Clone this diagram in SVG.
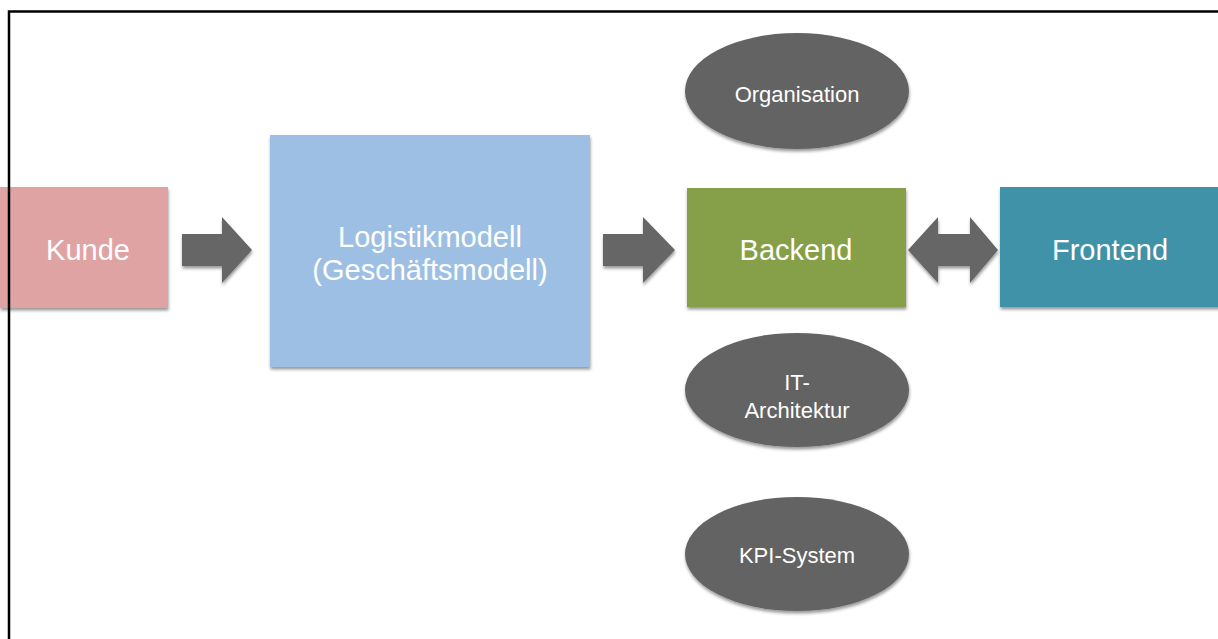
<svg xmlns="http://www.w3.org/2000/svg" width="1218" height="639" viewBox="0 0 1218 639">
  <defs>
    <filter id="shadow" x="-10%" y="-10%" width="120%" height="130%">
      <feDropShadow dx="0.5" dy="2.5" stdDeviation="1.8" flood-color="#000" flood-opacity="0.4"/>
    </filter>
    <style>
      .box { filter: url(#shadow); }
      .big { font-family: "Liberation Sans", Arial, sans-serif; font-size: 29px; fill: #ffffff; text-anchor: middle; }
      .small { font-family: "Liberation Sans", Arial, sans-serif; font-size: 22px; fill: #ffffff; text-anchor: middle; }
      .oval { fill: #646464; filter: url(#shadow); }
      .arrow { fill: #666666; filter: url(#shadow); }
    </style>
  </defs>

  <rect width="1218" height="639" fill="#ffffff"/>

  <!-- flow arrows -->
  <g id="connectors">
    <path class="arrow" d="M182,234 H222 V217 L252,250 L222,283 V266 H182 Z"/>
    <path class="arrow" d="M603,234 H643 V217 L675,250 L643,283 V266 H603 Z"/>
    <path class="arrow" d="M908,250 L938,217 V234 H970 V217 L998,250 L970,283 V266 H938 V283 Z"/>
  </g>

  <g id="kunde">
    <rect class="box" x="0" y="187" width="168" height="121" fill="#E0A3A4"/>
    <text class="big" x="88" y="260">Kunde</text>
  </g>

  <g id="logistikmodell">
    <rect class="box" x="270" y="135" width="320" height="232" fill="#9EBFE4"/>
    <text class="big" x="430" y="247">Logistikmodell</text>
    <text class="big" x="430" y="280">(Geschäftsmodell)</text>
  </g>

  <g id="backend">
    <rect class="box" x="687" y="188" width="219" height="119" fill="#869F49"/>
    <text class="big" x="796" y="260">Backend</text>
  </g>

  <g id="frontend">
    <rect class="box" x="1000" y="187" width="230" height="120" fill="#4192A9"/>
    <text class="big" x="1110" y="260">Frontend</text>
  </g>

  <g id="organisation">
    <ellipse class="oval" cx="797" cy="91" rx="112" ry="58"/>
    <text class="small" x="797" y="102" font-size="20">Organisation</text>
  </g>

  <g id="it-architektur">
    <ellipse class="oval" cx="797" cy="390" rx="112" ry="57"/>
    <text class="small" x="797" y="390">IT-</text>
    <text class="small" x="797" y="418">Architektur</text>
  </g>

  <g id="kpi-system">
    <ellipse class="oval" cx="797" cy="554" rx="112" ry="57"/>
    <text class="small" x="797" y="563">KPI-System</text>
  </g>

  <!-- outer frame: top and left edges only -->
  <path d="M9,639 V11.5 H1218" fill="none" stroke="#000000" stroke-width="2.5"/>
</svg>
